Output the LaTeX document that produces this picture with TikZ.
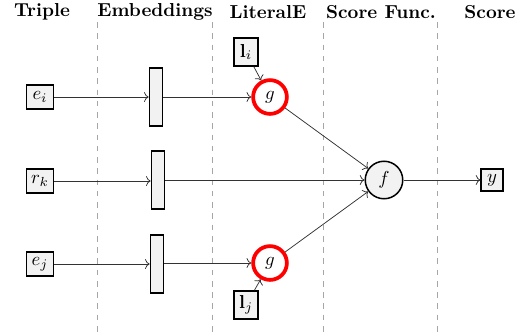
\documentclass[tikz,border=0pt]{standalone}
\usetikzlibrary{arrows.meta}
\begin{document}
\begin{tikzpicture}[x=0.533pt,y=-0.533pt,
  inbox/.style={draw,thick,fill=gray!10,inner sep=2.5pt,minimum width=14.5pt,minimum height=13pt},
  lbox/.style={draw,thick,fill=gray!10,inner sep=2pt,minimum width=13pt,minimum height=15pt},
  bar/.style={draw,thick,fill=gray!10,minimum width=7pt,minimum height=31pt,inner sep=0pt},
  gnode/.style={circle,draw=red,line width=2pt,fill=white,minimum size=18pt,inner sep=0pt},
  fnode/.style={circle,draw,thick,fill=gray!10,minimum size=20pt,inner sep=0pt},
  sep/.style={draw=gray!70,dashed,thin},
  hdr/.style={font=\bfseries},
  conn/.style={->,draw=black!80}]
\useasboundingbox (0,0) rectangle (522,334);
% headers
\node[hdr] (h1) at (42,12) {Triple};
\node[hdr] (h2) at (155,12) {Embeddings};
\node[hdr] (h3) at (268,12) {LiteralE};
\node[hdr] (h4) at (381,12) {Score Func.};
\node[hdr] (h5) at (490,12) {Score};
% separators
\foreach \x/\n in {97/a,212/b,323/c,437/d}{
  \coordinate (t\n) at (\x,22);
  \coordinate (b\n) at (\x,334);
  \draw[sep] (t\n) -- (b\n);
}
% nodes
\node[inbox] (ei) at (40,97) {$e_i$};
\node[inbox] (rk) at (40,181) {$r_k$};
\node[inbox] (ej) at (40,264) {$e_j$};
\node[bar] (b1) at (156,97) {};
\node[bar] (b2) at (158,180) {};
\node[bar] (b3) at (157,264) {};
\node[gnode] (g1) at (270,97) {$g$};
\node[gnode] (g2) at (270,263) {$g$};
\node[lbox] (li) at (246,52) {$\mathbf{l}_i$};
\node[lbox] (lj) at (246,305) {$\mathbf{l}_j$};
\node[fnode] (f) at (384,180) {$f$};
\node[inbox,minimum width=11.5pt,minimum height=11.5pt,inner sep=1.5pt] (y) at (492,180) {$y$};
% connectors
\draw[conn] (ei) -- (b1);
\draw[conn] (rk) -- (b2.west |- rk);
\draw[conn] (ej) -- (b3.west |- ej);
\draw[conn] (b1) -- (g1);
\draw[conn] (b3.east |- g2) -- (g2);
\draw[conn] (b2.east |- f) -- (f);
\draw[conn] (li) -- (g1);
\draw[conn] (lj) -- (g2);
\draw[conn] (g1) -- (f);
\draw[conn] (g2) -- (f);
\draw[conn] (f) -- (y);
\end{tikzpicture}
\end{document}
